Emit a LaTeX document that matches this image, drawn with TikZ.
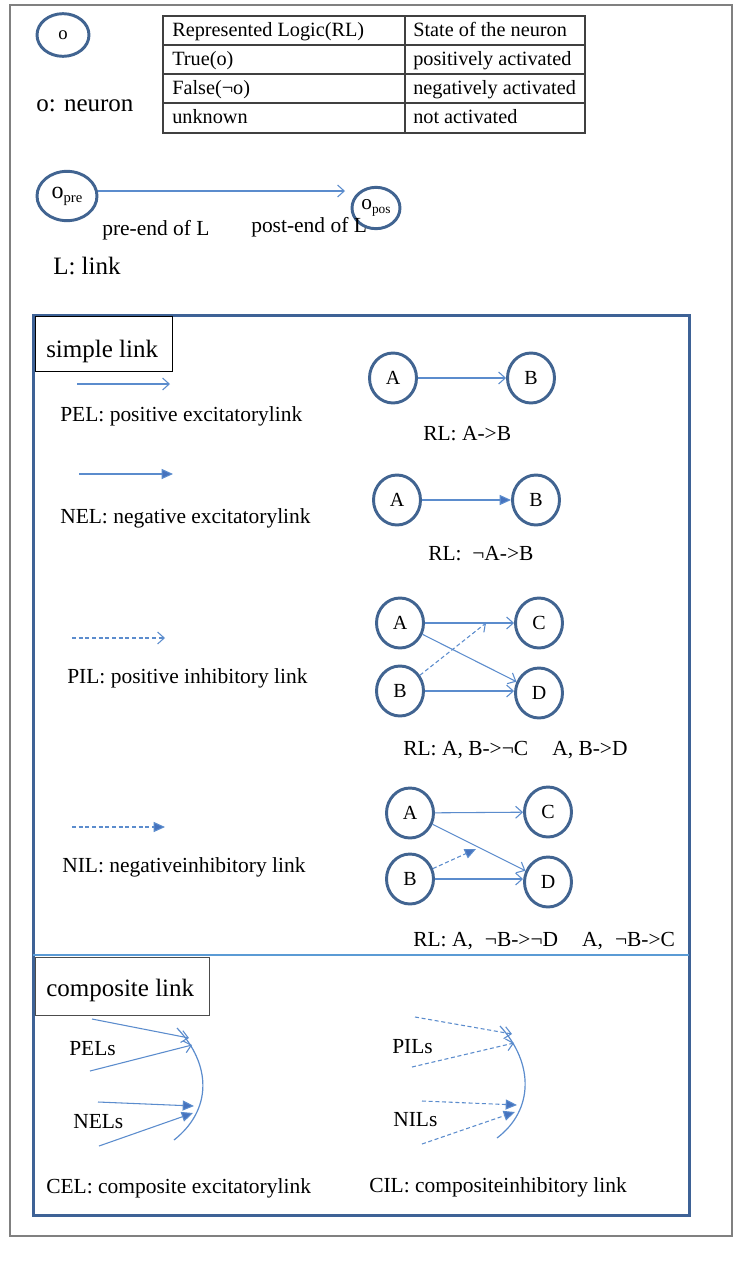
\documentclass[tikz,border=0pt]{standalone}
\usepackage{fontspec}
\setmainfont{Liberation Serif}
\usetikzlibrary{arrows.meta,shapes.geometric}
\definecolor{nblue}{RGB}{65,100,145}
\definecolor{lblue}{RGB}{91,140,205}
\definecolor{dblue}{RGB}{70,115,190}
\definecolor{boxblue}{RGB}{62,98,150}
\definecolor{divblue}{RGB}{91,155,213}
\definecolor{framegray}{RGB}{128,128,128}
\begin{document}
\begin{tikzpicture}[x=0.75pt,y=-0.75pt,
  neuron/.style={draw=nblue, line width=2.2pt, ellipse, inner sep=0pt,
    minimum width=35.25pt, minimum height=37.5pt, font=\fontsize{15pt}{16pt}\selectfont},
  lbl/.style={anchor=west, inner sep=0pt, text height=11pt, text depth=3pt, font=\fontsize{16.1pt}{18pt}\selectfont},
  tbltxt/.style={anchor=west, inner sep=0pt, text height=11pt, text depth=3pt, font=\fontsize{15.2pt}{17pt}\selectfont},
  ttl/.style={anchor=west, inner sep=0pt, text height=13pt, text depth=4pt, font=\fontsize{18.75pt}{21pt}\selectfont},
  tblline/.style={draw=black!75, line width=0.9pt},
  pel/.style={draw=lblue, line width=0.8pt, -{Straight Barb[length=5pt,width=9pt]}},
  nel/.style={draw=lblue, line width=0.8pt, -{Triangle[length=8.5pt,width=7.5pt,fill=dblue]}},
  pil/.style={pel, dash pattern=on 3pt off 2pt},
  nil/.style={nel, dash pattern=on 3pt off 2pt},
  arcline/.style={draw=lblue, line width=0.9pt}]
\useasboundingbox (0,0) rectangle (747,1264);
\fill[white] (0,0) rectangle (747,1264);
% outer frame
\draw[framegray, line width=1.1pt] (10,5) rectangle (732,1236);

% neuron legend
\node[neuron, minimum width=39pt, minimum height=32pt, font=\fontsize{14pt}{14pt}\selectfont] (n0) at (63,35) {o};
\node[ttl] (lneuron) at (36,105) {o: neuron};

% table
\draw[tblline] (163,16) rectangle (585,133);
\draw[tblline] (163,45) -- (585,45);
\draw[tblline] (163,74) -- (585,74);
\draw[tblline] (163,103) -- (585,103);
\draw[tblline] (405,16) -- (405,133);
\node[tbltxt] (t11) at (172,31) {Represented Logic(RL)};
\node[tbltxt] (t12) at (413,31) {State of the neuron};
\node[tbltxt] (t21) at (172,60) {True(o)};
\node[tbltxt] (t22) at (413,60) {positively activated};
\node[tbltxt] (t31) at (172,89) {False(¬o)};
\node[tbltxt] (t32) at (413,89) {negatively activated};
\node[tbltxt] (t41) at (172,118) {unknown};
\node[tbltxt] (t42) at (413,118) {not activated};

% link legend
\node[neuron, minimum width=45pt, minimum height=37pt] (pre) at (67,196)
  {{\fontsize{18pt}{18pt}\selectfont o}{\fontsize{11pt}{11pt}\selectfont\raisebox{-3pt}{pre}}};
\node[neuron, minimum width=36pt, minimum height=31pt] (pos) at (376,208)
  {{\fontsize{16pt}{16pt}\selectfont o}{\fontsize{10pt}{10pt}\selectfont\raisebox{-3pt}{pos}}};
\coordinate (posend) at (345,191);
\draw[pel] (pre.east |- posend) -- (posend);
\node[lbl] (lpre) at (102,230) {pre-end of L};
\node[lbl] (lpos) at (251,227) {post-end of L};
\node[ttl] (llink) at (53,268) {L: link};

% inner box
\draw[boxblue, line width=2.25pt] (33,315) rectangle (689,1215);
\draw[divblue, line width=1.2pt] (33,955) -- (689,955);
\draw[black, line width=0.7pt] (35,316) rectangle (172,371);
\node[ttl] (tsimple) at (46,351) {simple link};
\draw[black!70, line width=0.7pt] (35,957) rectangle (209,1015);
\node[ttl] (tcomp) at (46,990) {composite link};

% simple link legend arrows
\coordinate (pels) at (77,384); \coordinate (pele) at (170,384);
\draw[pel] (pels) -- (pele);
\node[lbl] (lpel) at (60,416) {PEL: positive excitatorylink};
\coordinate (nels) at (79,474); \coordinate (nele) at (173,474);
\draw[nel] (nels) -- (nele);
\node[lbl] (lnel) at (60,518) {NEL: negative excitatorylink};
\coordinate (pils) at (72,638); \coordinate (pile) at (165,638);
\draw[pil] (pils) -- (pile);
\node[lbl] (lpil) at (67,678) {PIL: positive inhibitory link};
\coordinate (nils) at (72,827); \coordinate (nile) at (165,827);
\draw[nil] (nils) -- (nile);
\node[lbl] (lnil) at (62,867) {NIL: negativeinhibitory link};

% diagram 1
\node[neuron] (a1) at (393,378) {A};
\node[neuron] (b1) at (531,378) {B};
\draw[pel] (a1) -- (b1);
\node[lbl] (rl1) at (423,435) {RL: A->B};

% diagram 2
\node[neuron] (a2) at (397,500) {A};
\node[neuron] (b2) at (536,500) {B};
\draw[nel] (a2) -- (b2);
\node[lbl] (rl2) at (428,555) {RL:\hspace{8pt}¬A->B};

% diagram 3
\node[neuron] (a3) at (400,623) {A};
\node[neuron] (c3) at (539,623) {C};
\node[neuron] (b3) at (400,691) {B};
\node[neuron] (d3) at (539,693) {D};
\draw[pel] (a3) -- (c3);
\draw[pel] (a3) -- (d3);
\draw[pel] (b3.east) -- (d3.west |- b3.east);
\coordinate (m3) at (486,623);
\draw[pil] (b3) -- (m3);
\node[lbl] (rl3) at (403,750) {RL: A, B->¬C\hspace{18pt}A, B->D};

% diagram 4
\node[neuron] (a4) at (410,813) {A};
\node[neuron] (c4) at (548,812) {C};
\node[neuron] (b4) at (410,879) {B};
\node[neuron] (d4) at (548,882) {D};
\draw[pel] (a4) -- (c4);
\draw[pel] (a4) -- (d4);
\draw[pel] (b4.east) -- (d4.west |- b4.east);
\coordinate (m4) at (476,849);
\draw[nil] (b4) -- (m4);
\node[lbl] (rl4) at (413,941) {RL: A,\hspace{9pt}¬B->¬D\hspace{18pt}A,\hspace{9pt}¬B->C};

% composite excitatory link
\coordinate (ca) at (177,1028); \coordinate (cb) at (174,1140);
\draw[arcline] (ca) .. controls (212,1065) and (212,1110) .. (cb);
\coordinate (p1s) at (92,1019); \coordinate (p1e) at (189,1038);
\coordinate (p2s) at (90,1071); \coordinate (p2e) at (192,1045);
\coordinate (n1s) at (98,1102); \coordinate (n1e) at (194,1106);
\coordinate (n2s) at (99,1146); \coordinate (n2e) at (193,1113);
\draw[pel] (p1s) -- (p1e);
\draw[pel] (p2s) -- (p2e);
\draw[nel] (n1s) -- (n1e);
\draw[nel] (n2s) -- (n2e);
\node[lbl] (lpels) at (69,1050) {PELs};
\node[lbl] (lnels) at (73,1123) {NELs};
\node[lbl] (lcel) at (46,1188) {CEL: composite excitatorylink};

% composite inhibitory link
\coordinate (ia) at (500,1026); \coordinate (ib) at (497,1138);
\draw[arcline] (ia) .. controls (534,1063) and (534,1110) .. (ib);
\coordinate (q1s) at (415,1017); \coordinate (q1e) at (512,1034);
\coordinate (q2s) at (412,1067); \coordinate (q2e) at (514,1043);
\coordinate (r1s) at (422,1101); \coordinate (r1e) at (517,1105);
\coordinate (r2s) at (422,1144); \coordinate (r2e) at (515,1112);
\draw[pil] (q1s) -- (q1e);
\draw[pil] (q2s) -- (q2e);
\draw[nil] (r1s) -- (r1e);
\draw[nil] (r2s) -- (r2e);
\node[lbl] (lpils) at (392,1048) {PILs};
\node[lbl] (lnils) at (393,1121) {NILs};
\node[lbl] (lcil) at (369,1187) {CIL: compositeinhibitory link};
\end{tikzpicture}
\end{document}
